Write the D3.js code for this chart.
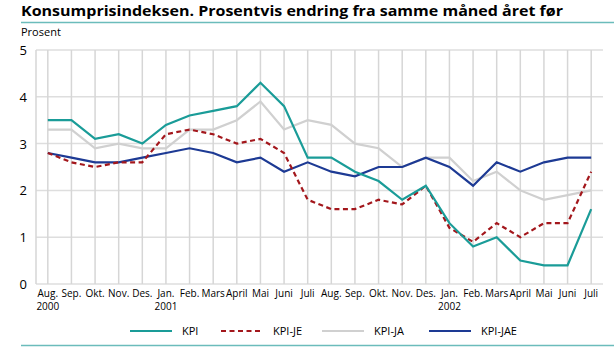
<!DOCTYPE html>
<html>
<head>
<meta charset="utf-8">
<script src="https://cdn.jsdelivr.net/npm/d3@7"></script>
<style>
  body { margin: 0; background: #fff; }
  text { font-family: "Open Sans", "Noto Sans", sans-serif; fill: #000; }
</style>
</head>
<body>
<div id="chart"></div>
<script>
var months = ["Aug.", "Sep.", "Okt.", "Nov.", "Des.", "Jan.", "Feb.", "Mars", "April", "Mai", "Juni", "Juli",
              "Aug.", "Sep.", "Okt.", "Nov.", "Des.", "Jan.", "Feb.", "Mars", "April", "Mai", "Juni", "Juli"];
var years = {0: "2000", 5: "2001", 17: "2002"};
var yTicks = [0, 1, 2, 3, 4, 5];

var kpi    = [3.5, 3.5, 3.1, 3.2, 3.0, 3.4, 3.6, 3.7, 3.8, 4.3, 3.8, 2.7, 2.7, 2.4, 2.2, 1.8, 2.1, 1.3, 0.8, 1.0, 0.5, 0.4, 0.4, 1.6];
var kpiJE  = [2.8, 2.6, 2.5, 2.6, 2.6, 3.2, 3.3, 3.2, 3.0, 3.1, 2.8, 1.8, 1.6, 1.6, 1.8, 1.7, 2.1, 1.2, 0.9, 1.3, 1.0, 1.3, 1.3, 2.4];
var kpiJA  = [3.3, 3.3, 2.9, 3.0, 2.9, 2.9, 3.3, 3.3, 3.5, 3.9, 3.3, 3.5, 3.4, 3.0, 2.9, 2.5, 2.7, 2.7, 2.2, 2.4, 2.0, 1.8, 1.9, 2.0];
var kpiJAE = [2.8, 2.7, 2.6, 2.6, 2.7, 2.8, 2.9, 2.8, 2.6, 2.7, 2.4, 2.6, 2.4, 2.3, 2.5, 2.5, 2.7, 2.5, 2.1, 2.6, 2.4, 2.6, 2.7, 2.7];

var seriesNames = ["KPI", "KPI-JE", "KPI-JA", "KPI-JAE"];
var seriesColors = ["#1a9c98", "#a3171c", "#d0d0d0", "#1d3a94"];

var width = 614, height = 347;
var plotL = 36, plotR = 603, plotT = 50, plotB = 284;

var svg = d3.select("#chart").append("svg")
    .attr("width", width)
    .attr("height", height);

// title + rules
svg.append("text")
    .attr("x", 21).attr("y", 16)
    .attr("textLength", 542)
    .attr("lengthAdjust", "spacingAndGlyphs")
    .style("font-size", "15px")
    .style("font-weight", "bold")
    .text("Konsumprisindeksen. Prosentvis endring fra samme måned året før");
svg.append("line")
    .attr("x1", 21).attr("x2", 614).attr("y1", 22.5).attr("y2", 22.5)
    .style("stroke", "#6bbcbb").style("stroke-width", 1.5);
svg.append("line")
    .attr("x1", 21).attr("x2", 614).attr("y1", 345.5).attr("y2", 345.5)
    .style("stroke", "#6bbcbb").style("stroke-width", 1.5);

svg.append("text")
    .attr("x", 21).attr("y", 36)
    .style("font-size", "11px")
    .text("Prosent");

var x = d3.scalePoint()
    .domain(d3.range(months.length))
    .range([plotL, plotR])
    .padding(0.5);
var y = d3.scaleLinear().domain([0, 5]).range([plotB, plotT]);

// horizontal grid
svg.append("g").selectAll("line")
    .data(yTicks)
    .enter().append("line")
    .attr("x1", plotL).attr("x2", plotR)
    .attr("y1", function(d) { return y(d); })
    .attr("y2", function(d) { return y(d); })
    .style("stroke", "#dedede").style("stroke-width", 1.5);

// vertical grid
svg.append("line")
    .attr("x1", plotL).attr("x2", plotL).attr("y1", plotT).attr("y2", plotB)
    .style("stroke", "#d6d6d6").style("stroke-width", 1.5);
svg.append("g").selectAll("line")
    .data(d3.range(months.length))
    .enter().append("line")
    .attr("x1", function(d) { return x(d); })
    .attr("x2", function(d) { return x(d); })
    .attr("y1", plotT).attr("y2", plotB)
    .style("stroke", "#d6d6d6").style("stroke-width", 1.5);

// y labels
svg.append("g").selectAll("text")
    .data(yTicks)
    .enter().append("text")
    .attr("x", 27)
    .attr("y", function(d) { return y(d) + 5; })
    .attr("text-anchor", "end")
    .style("font-size", "13px")
    .text(function(d) { return d; });

// x labels
svg.append("g").selectAll("text")
    .data(months)
    .enter().append("text")
    .attr("x", function(d, i) { return x(i); })
    .attr("y", 297)
    .attr("text-anchor", "middle")
    .style("font-size", "10px")
    .text(function(d) { return d; });
svg.append("g").selectAll("text")
    .data(Object.keys(years))
    .enter().append("text")
    .attr("x", function(d) { return x(+d); })
    .attr("y", 310)
    .attr("text-anchor", "middle")
    .style("font-size", "10px")
    .text(function(d) { return years[d]; });

// series, drawn grey first so the coloured lines sit on top
var line = d3.line()
    .x(function(d, i) { return x(i); })
    .y(function(d) { return y(d); });
var allSeries = [kpiJA, kpiJAE, kpiJE, kpi];
var order = [2, 3, 1, 0];
allSeries.forEach(function(s, k) {
    var idx = order[k];
    svg.append("path")
        .datum(s)
        .attr("d", line)
        .style("fill", "none")
        .style("stroke", seriesColors[idx])
        .style("stroke-width", 2.2)
        .style("stroke-dasharray", idx == 1 ? "5,3.5" : null)
        .style("stroke-linejoin", "miter");
});

// legend
var legendX = [130, 221, 322, 429];
seriesNames.forEach(function(name, i) {
    svg.append("line")
        .attr("x1", legendX[i]).attr("x2", legendX[i] + 42)
        .attr("y1", 331).attr("y2", 331)
        .style("stroke", seriesColors[i])
        .style("stroke-width", 2.2)
        .style("stroke-dasharray", i == 1 ? "5,3.5" : null);
    svg.append("text")
        .attr("x", legendX[i] + 52)
        .attr("y", 335)
        .style("font-size", "11px")
        .text(name);
});
</script>
</body>
</html>
